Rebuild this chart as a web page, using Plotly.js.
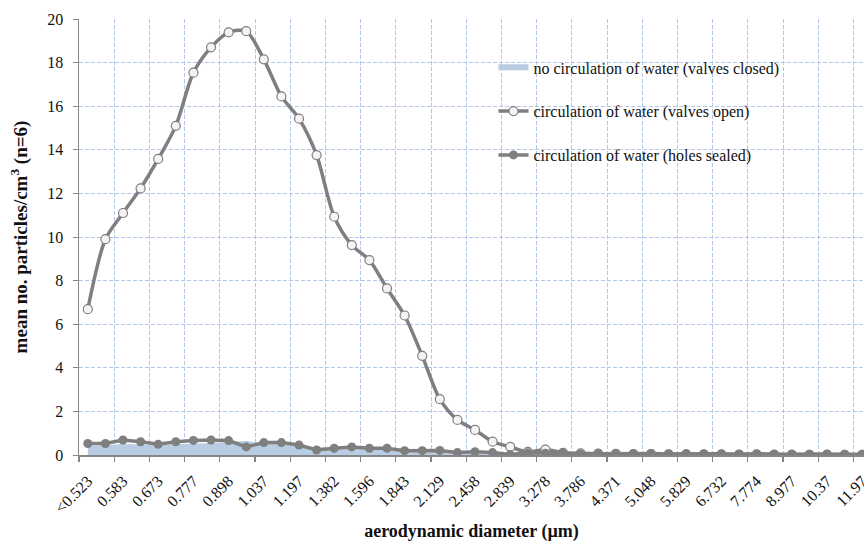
<!DOCTYPE html>
<html>
<head>
<meta charset="utf-8">
<script src="https://cdn.plot.ly/plotly-3.0.1.min.js"></script>
<style>html,body{margin:0;padding:0;background:#fff;}#chart{width:864px;height:542px;}</style>
</head>
<body>
<div id="chart"></div>
<script>
// Size bins (aerodynamic diameter, µm)
const categories = ["<0.523","0.542","0.583","0.626","0.673","0.723","0.777","0.835","0.898","0.965",
  "1.037","1.114","1.197","1.286","1.382","1.486","1.596","1.715","1.843","1.981",
  "2.129","2.288","2.458","2.642","2.839","3.051","3.278","3.523","3.786","4.068",
  "4.371","4.698","5.048","5.425","5.829","6.264","6.732","7.234","7.774","8.354",
  "8.977","9.647","10.37","11.14","11.97","12.86"];

const valvesClosed = [0.42,0.45,0.50,0.48,0.46,0.50,0.52,0.55,0.60,0.65,
  0.52,0.50,0.42,0.35,0.33,0.33,0.33,0.30,0.22,0.20,
  0.18,0.13,0.12,0.09,0.06,0.05,0.04,0.03,0.03,0.03,
  0.02,0.02,0.02,0.02,0.02,0.02,0.01,0.01,0.01,0.01,
  0.01,0.01,0.01,0.01,0.01,0.01];

const valvesOpen = [6.69,9.90,11.10,12.23,13.58,15.10,17.54,18.70,19.39,19.44,
  18.15,16.45,15.43,13.76,10.93,9.63,8.94,7.64,6.40,4.55,
  2.56,1.61,1.15,0.61,0.37,0.14,0.25,0.10,0.08,0.06,
  0.05,0.04,0.04,0.03,0.03,0.03,0.02,0.02,0.02,0.02,
  0.01,0.01,0.01,0.01,0.01,0.01];

const holesSealed = [0.53,0.53,0.69,0.61,0.49,0.61,0.67,0.69,0.66,0.37,
  0.57,0.57,0.46,0.23,0.31,0.37,0.31,0.31,0.20,0.20,
  0.21,0.11,0.15,0.11,0.02,0.10,0.08,0.08,0.06,0.06,
  0.07,0.05,0.07,0.05,0.06,0.05,0.06,0.04,0.06,0.04,
  0.05,0.04,0.05,0.04,0.04,0.04];

const idx = categories.map((_, i) => i);
const labelIdx = idx.filter(i => i % 2 === 0);
const labelText = labelIdx.map(i => categories[i]);
const boundaryVals = labelIdx.map(i => i - 0.5);

const grey = '#7f7f7f';
const gridBlue = '#b3c8e6';
const FONT = 'Liberation Serif';

const traces = [
  {
    x: idx, y: valvesClosed, type: 'scatter', mode: 'none', fill: 'tozeroy',
    fillcolor: '#b8cce4', name: 'no circulation of water (valves closed)', legendgroup: 'a',
    hoverinfo: 'skip'
  },
  {
    x: idx, y: valvesOpen, type: 'scatter', mode: 'lines+markers',
    line: {color: grey, width: 3.5, shape: 'spline', smoothing: 0.8},
    marker: {symbol: 'circle', size: 9, color: '#f4f4f4', line: {color: grey, width: 1.2}},
    name: 'circulation of water (valves open)', legendgroup: 'b', cliponaxis: true
  },
  {
    x: idx, y: holesSealed, type: 'scatter', mode: 'lines+markers',
    line: {color: grey, width: 3.5},
    marker: {symbol: 'circle', size: 9, color: grey, line: {color: grey, width: 0}},
    name: 'circulation of water (holes sealed)', legendgroup: 'c', cliponaxis: true
  }
];

const xrange = [-0.5, 44.1];

const layout = {
  width: 864, height: 542,
  margin: {l: 79, r: 0, t: 19, b: 87, pad: 0},
  paper_bgcolor: '#ffffff', plot_bgcolor: '#ffffff',
  font: {family: FONT, size: 16, color: '#111'},
  showlegend: true,
  legend: {
    x: 0.528, y: 0.928, xanchor: 'left', yanchor: 'top',
    bgcolor: 'rgba(0,0,0,0)', font: {family: FONT, size: 16, color: '#111'},
    traceorder: 'grouped', tracegroupgap: 20, itemwidth: 30
  },
  xaxis: {
    range: xrange, type: 'linear',
    tickmode: 'array', tickvals: labelIdx, ticktext: labelText,
    tickangle: -45, tickfont: {family: FONT, size: 16, color: '#111'},
    ticks: '', showgrid: false, zeroline: false,
    showline: true, linecolor: '#868686', linewidth: 1.5,
    ticklabelstandoff: 9, ticklabeloverflow: 'allow',
    minor: {
      tickmode: 'array', tickvals: boundaryVals,
      ticks: 'outside', ticklen: 5, tickcolor: '#868686', tickwidth: 1.2,
      showgrid: true, gridcolor: gridBlue, gridwidth: 1, griddash: '4px,2px'
    },
    title: {text: '<b>aerodynamic diameter (µm)</b>', font: {family: FONT, size: 18, color: '#111'}, standoff: 19}
  },
  yaxis: {
    range: [0, 20], dtick: 2, tick0: 0,
    showgrid: true, gridcolor: gridBlue, gridwidth: 1, griddash: '4px,2px',
    zeroline: false, showline: true, linecolor: '#868686', linewidth: 1.5,
    ticks: 'outside', ticklen: 5, tickcolor: '#868686',
    tickfont: {family: FONT, size: 16, color: '#111'}, ticklabelstandoff: 6,
    title: {text: '<b>mean no. particles/cm<sup>3</sup> (n=6)</b>', font: {family: FONT, size: 19, color: '#111'}, standoff: 14}
  }
};

Plotly.newPlot('chart', traces, layout, {staticPlot: true, displayModeBar: false});
</script>
</body>
</html>
